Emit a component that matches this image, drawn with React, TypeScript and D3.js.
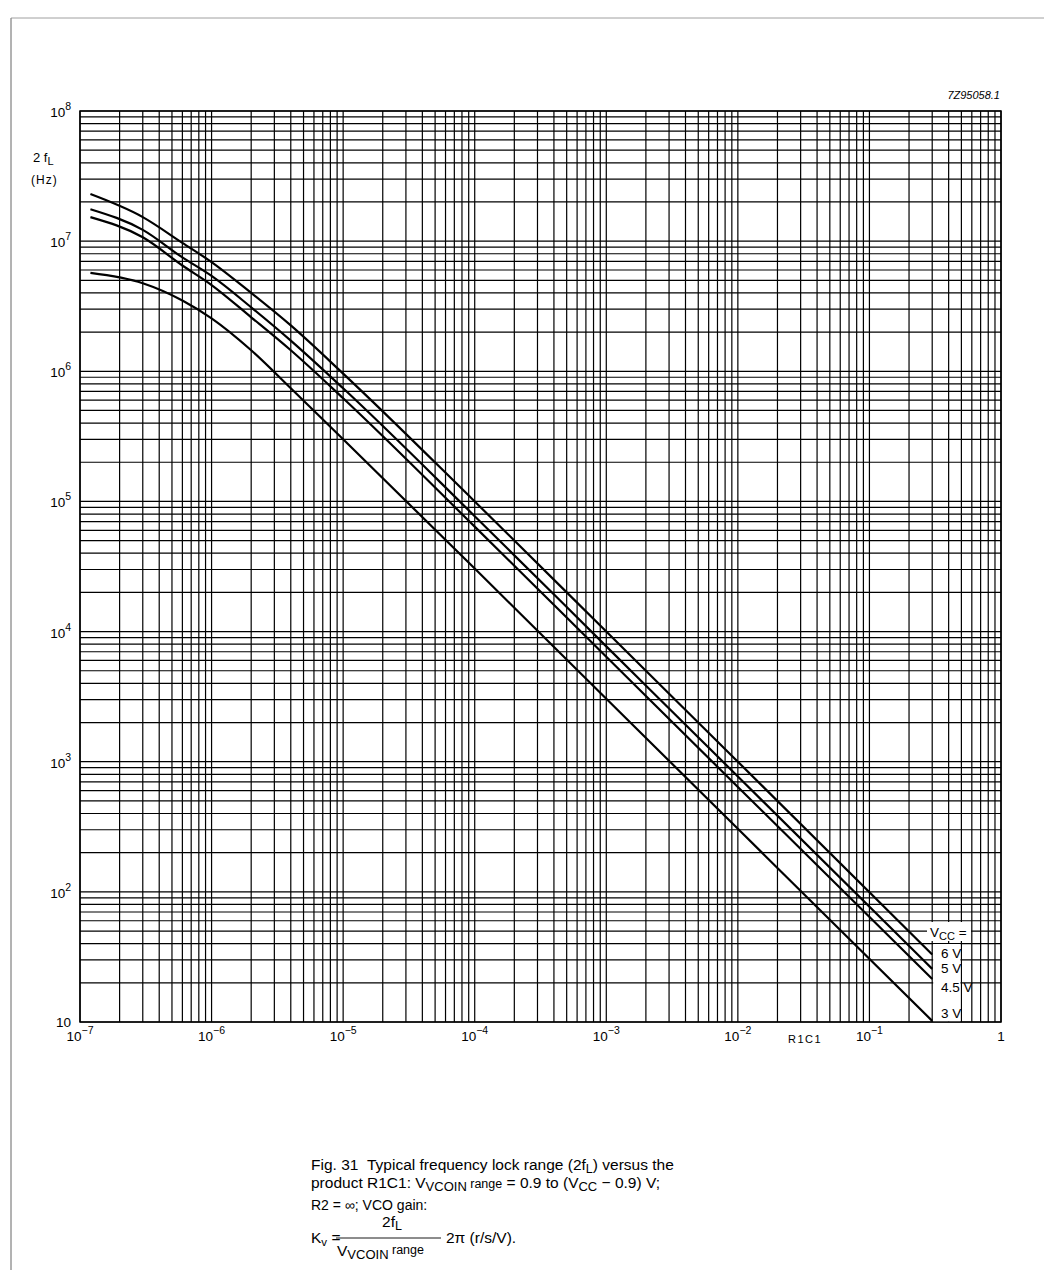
import React from "react";
import * as d3 from "d3";

// ---- data ----
const xDomain: [number, number] = [1e-7, 1];
const yDomain: [number, number] = [10, 1e8];
const xDecades = [-7, -6, -5, -4, -3, -2, -1, 0];
const yDecades = [1, 2, 3, 4, 5, 6, 7, 8];
const seriesNames = ["6 V", "5 V", "4.5 V", "3 V"];
const r1c1 = [1.2e-7, 3e-7, 6e-7, 1e-6, 2e-6, 4e-6, 1e-5, 1e-4, 1e-3, 1e-2, 0.3];
const lock6V = [2.3e7, 1.53e7, 9.7e6, 6.9e6, 4.0e6, 2.25e6, 9.6e5, 1e5, 1e4, 1e3, 33];
const lock5V = [1.76e7, 1.22e7, 7.5e6, 5.4e6, 3.1e6, 1.72e6, 7.4e5, 7.7e4, 7.7e3, 770, 25.6];
const lock45V = [1.53e7, 1.07e7, 6.5e6, 4.6e6, 2.6e6, 1.45e6, 6.2e5, 6.4e4, 6.4e3, 640, 21.4];
const lock3V = [5.7e6, 4.75e6, 3.5e6, 2.55e6, 1.45e6, 7.4e5, 3.0e5, 3.05e4, 3.05e3, 305, 10.2];
const seriesValues = [lock6V, lock5V, lock45V, lock3V];
const legendBaselines = [958, 973, 992, 1018];

const FONT = "'Liberation Sans', Arial, Helvetica, sans-serif";

export default function App() {
  const W = 1044, H = 1270;
  const x = d3.scaleLog().domain(xDomain).range([80, 1001]);
  const y = d3.scaleLog().domain(yDomain).range([1022, 111]);
  const [x0, x1] = x.range();
  const [y0, y1] = y.range();

  const xGrid: number[] = [];
  xDecades.slice(0, -1).forEach((d) => {
    for (let k = 1; k <= 9; k++) xGrid.push(k * Math.pow(10, d));
  });
  xGrid.push(1);
  const yGrid: number[] = [];
  yDecades.slice(0, -1).forEach((d) => {
    for (let k = 1; k <= 9; k++) yGrid.push(k * Math.pow(10, d));
  });
  yGrid.push(1e8);

  const line = d3
    .line<[number, number]>()
    .x((d) => x(d[0]))
    .y((d) => y(d[1]))
    .curve(d3.curveMonotoneX);

  const legendX = x(0.3);

  return (
    <svg
      width={W}
      height={H}
      style={{ position: "absolute", left: 0, top: 0, background: "#fff" }}
      fontFamily={FONT}
    >
      <rect x={0} y={0} width={W} height={H} fill="#fff" />
      {/* page frame */}
      <line x1={11} y1={18} x2={11} y2={H} stroke="#666" strokeWidth={1} />
      <line x1={11} y1={18} x2={W} y2={18} stroke="#888" strokeWidth={0.8} />

      {/* grid */}
      <g stroke="#000" strokeWidth={1.2}>
        {xGrid.map((v, i) => (
          <line key={"gx" + i} x1={x(v)} x2={x(v)} y1={y1} y2={y0} />
        ))}
        {yGrid.map((v, i) => (
          <line key={"gy" + i} x1={x0} x2={x1} y1={y(v)} y2={y(v)} />
        ))}
      </g>
      <rect x={x0} y={y1} width={x1 - x0} height={y0 - y1} fill="none" stroke="#000" strokeWidth={1.5} />

      {/* legend white boxes */}
      <rect x={legendX + 1} y={944} width={x(0.5) - legendX - 2} height={y0 - 944 - 0.8} fill="#fff" />
      <rect x={927} y={922} width={44} height={19} fill="#fff" />

      {/* curves */}
      <g fill="none" stroke="#000" strokeWidth={2.2} strokeLinejoin="round">
        {seriesValues.map((vals, si) => (
          <path key={seriesNames[si]} d={line(r1c1.map((r, i) => [r, vals[i]] as [number, number])) || ""} />
        ))}
      </g>

      {/* legend labels */}
      <g fontSize={13.5} fill="#000">
        <text x={930} y={937}>
          V<tspan fontSize={11} dy={3}>CC</tspan>
          <tspan dy={-3}> =</tspan>
        </text>
        {seriesNames.map((s, i) => (
          <text key={s} x={941} y={legendBaselines[i]}>
            {s}
          </text>
        ))}
      </g>

      {/* y tick labels */}
      <g fontSize={13.5} fill="#000" textAnchor="end">
        {yDecades.map((d) => (
          <text key={"yl" + d} x={71} y={y(Math.pow(10, d)) + (d === 1 ? 5 : 6)}>
            {d === 1 ? (
              "10"
            ) : (
              <>
                10<tspan fontSize={10.5} dy={-7}>{d}</tspan>
              </>
            )}
          </text>
        ))}
      </g>
      {/* y axis title */}
      <text x={33} y={162} fontSize={13} fill="#000">
        2 f<tspan fontSize={11} dy={3}>L</tspan>
      </text>
      <text x={31} y={184} fontSize={12} fill="#000" letterSpacing={1}>
        (Hz)
      </text>

      {/* x tick labels */}
      <g fontSize={13.5} fill="#000" textAnchor="middle">
        {xDecades.map((d) => (
          <text key={"xl" + d} x={x(Math.pow(10, d))} y={1041}>
            {d === 0 ? (
              "1"
            ) : (
              <>
                10<tspan fontSize={10.5} dy={-7}>{"\u2212" + Math.abs(d)}</tspan>
              </>
            )}
          </text>
        ))}
      </g>
      <text x={788} y={1043} fontSize={11} fill="#000" letterSpacing={1.5}>
        R1C1
      </text>

      {/* drawing number */}
      <text x={1000} y={99} fontSize={11} fontStyle="italic" textAnchor="end" fill="#000">
        7Z95058.1
      </text>

      {/* caption */}
      <g fill="#000" fontSize={15.5}>
        <text x={311} y={1170}>
          {"Fig. 31\u00a0\u00a0Typical frequency lock range (2f"}
          <tspan fontSize={12.5} dy={3}>L</tspan>
          <tspan dy={-3}>) versus the</tspan>
        </text>
        <text x={311} y={1188}>
          product R1C1: V<tspan fontSize={13} dy={3}>VCOIN</tspan>
          <tspan fontSize={12.5} dy={-3}> range</tspan>
          <tspan> = 0.9 to (V</tspan>
          <tspan fontSize={13} dy={3}>CC</tspan>
          <tspan dy={-3}> − 0.9) V;</tspan>
        </text>
        <text x={311} y={1210} fontSize={14}>
          R2 = ∞; VCO gain:
        </text>
        <text x={392} y={1227} textAnchor="middle">
          2f<tspan fontSize={12.5} dy={3}>L</tspan>
        </text>
        <text x={311} y={1243}>
          K<tspan fontSize={11.5} dy={3}>v</tspan>
          <tspan dy={-3}> =</tspan>
        </text>
        <line x1={336} x2={441} y1={1238} y2={1238} stroke="#000" strokeWidth={0.9} />
        <text x={446} y={1243}>
          2π (r/s/V).
        </text>
        <text x={337} y={1256}>
          V<tspan fontSize={13} dy={3}>VCOIN</tspan>
          <tspan fontSize={12.5} dy={-5}> range</tspan>
        </text>
      </g>
    </svg>
  );
}
